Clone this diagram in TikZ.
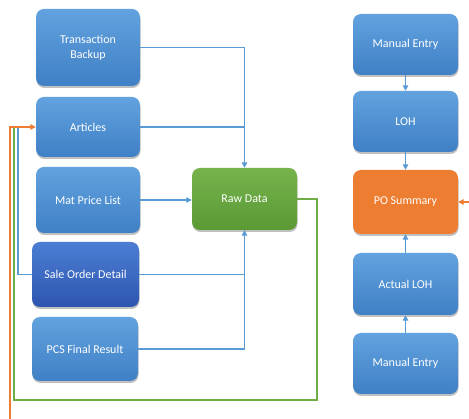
\documentclass[tikz,border=0pt]{standalone}
\usepackage{fontspec}
\setmainfont{Carlito}
\usetikzlibrary{arrows.meta,shadows}

\definecolor{boxtop}{HTML}{62A2DE}
\definecolor{boxbot}{HTML}{3F80C6}
\definecolor{darktop}{HTML}{4C7ED4}
\definecolor{darkbot}{HTML}{2D55AF}
\definecolor{greentop}{HTML}{76B34D}
\definecolor{greenbot}{HTML}{5A9934}
\definecolor{poorange}{HTML}{ED7D31}
\definecolor{lineblue}{HTML}{5B9BD5}
\definecolor{linegreen}{HTML}{70AD47}
\definecolor{lineorange}{HTML}{ED7D31}

\tikzset{
  card/.style={rounded corners=8pt, text=white, align=center,
    font=\fontsize{12}{15}\selectfont, inner sep=0pt,
    drop shadow={opacity=0.35, shadow xshift=0.5pt, shadow yshift=-2pt, fill=black!70}},
  bluecard/.style={card, top color=boxtop, bottom color=boxbot},
  darkcard/.style={card, top color=darktop, bottom color=darkbot},
  greencard/.style={card, top color=greentop, bottom color=greenbot},
  orangecard/.style={card, fill=poorange},
  tip/.style={-{Triangle[length=5.5pt,width=5.5pt]}},
  blueline/.style={draw=lineblue, line width=1.5pt},
  greenline/.style={draw=linegreen, line width=1.5pt},
  orangeline/.style={draw=lineorange, line width=1.5pt},
}

\begin{document}
\begin{tikzpicture}[x=1pt,y=-1pt]
  \useasboundingbox (0,0) rectangle (469,419);
  \clip (0,0) rectangle (469,419);
  \fill[white] (0,0) rectangle (469,419);

  % source tables on the left
  \node[bluecard, minimum width=104pt, minimum height=77pt] (tb)  at (88,47.5) {Transaction\\Backup};
  \node[bluecard, minimum width=104pt, minimum height=60pt] (art) at (88,127) {Articles};
  \node[bluecard, minimum width=104pt, minimum height=66pt] (mpl) at (88,200) {Mat Price List};
  \node[darkcard, minimum width=107pt, minimum height=65pt] (sod) at (85.5,274.5) {Sale Order Detail};
  \node[bluecard, minimum width=106pt, minimum height=64pt] (pcs) at (85,349) {PCS Final Result};

  % collected raw data
  \node[greencard, minimum width=105pt, minimum height=62pt] (raw) at (244.5,199) {Raw Data};

  % purchase order chain on the right
  \node[bluecard, minimum width=105pt, minimum height=61pt] (me1) at (405.5,44.5) {Manual Entry};
  \node[bluecard, minimum width=105pt, minimum height=61pt] (loh) at (405.5,121.5) {LOH};
  \node[orangecard, minimum width=105pt, minimum height=64pt] (po) at (405.5,202) {PO Summary};
  \node[bluecard, minimum width=105pt, minimum height=62pt] (aloh) at (405.5,284) {Actual LOH};
  \node[bluecard, minimum width=105pt, minimum height=61pt] (me2) at (405.5,363.5) {Manual Entry};

  % feeds into raw data
  \draw[blueline, tip] (tb.east) -| (raw.north);
  \draw[blueline] (art.east) -- (art.east -| raw.north);
  \draw[blueline, tip] (mpl.east) -- (mpl.east -| raw.west);
  \draw[blueline, tip] (sod.east) -| (raw.south);
  \draw[blueline] (pcs.east) -| (raw.south);

  % right column flow
  \draw[blueline, tip] (me1.south) -- (loh.north);
  \draw[blueline, tip] (loh.south) -- (po.north);
  \draw[blueline, tip] (aloh.north) -- (po.south);
  \draw[blueline, tip] (me2.north) -- (aloh.south);

  % return loops to the articles table
  \coordinate (gturn) at (317,400);
  \coordinate (gleft) at (14,400);
  \draw[greenline] (raw.east) -| (gturn) -- (gleft) -- (gleft |- art.west);
  \coordinate (bleft) at (18,0);
  \draw[blueline] (sod.west) -| (bleft |- art.west);

  \coordinate (oleft) at (10,420);
  \coordinate (oright) at (480,420);
  \draw[orangeline, tip] (oright) |- (po.east);
  \draw[orangeline, tip] (oright) -- (oleft) |- (art.west);
\end{tikzpicture}
\end{document}
